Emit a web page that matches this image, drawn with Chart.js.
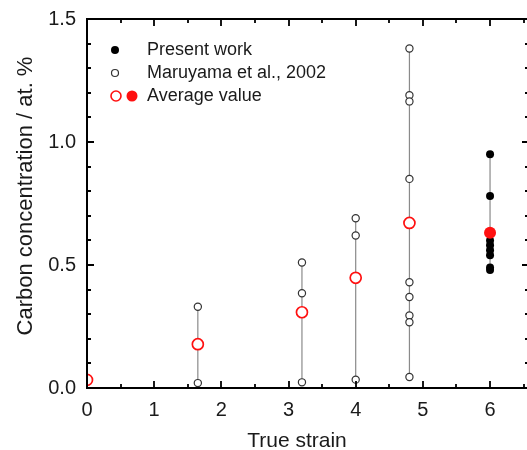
<!DOCTYPE html>
<html>
<head>
<meta charset="utf-8">
<script src="https://cdn.jsdelivr.net/npm/chart.js@4.4.1/dist/chart.umd.min.js"></script>
<style>
html,body{margin:0;padding:0;background:#fff;overflow:hidden;width:527px;height:450px;}
#wrap{width:527px;height:450px;overflow:hidden;position:relative;}
canvas{display:block;position:absolute;left:0;top:0;}
</style>
</head>
<body>
<div id="wrap"><canvas id="c" width="531" height="450" style="width:531px;height:450px"></canvas></div>
<script>
// ---- data ----
const maruyamaStrain = [1.65, 1.65, 3.2, 3.2, 3.2, 4.0, 4.0, 4.0, 4.8, 4.8, 4.8, 4.8, 4.8, 4.8, 4.8, 4.8, 4.8];
const maruyamaCarbon = [0.33, 0.02, 0.51, 0.385, 0.023, 0.69, 0.62, 0.034, 1.38, 1.19, 1.165, 0.85, 0.43, 0.37, 0.295, 0.267, 0.045];
const presentStrain = [6.0, 6.0, 6.0, 6.0, 6.0, 6.0, 6.0, 6.0];
const presentCarbon = [0.95, 0.78, 0.60, 0.58, 0.56, 0.54, 0.49, 0.48];
const avgOpenStrain = [0, 1.65, 3.2, 4.0, 4.8];
const avgOpenCarbon = [0.033, 0.178, 0.308, 0.448, 0.671];
const avgFilledStrain = [6.0];
const avgFilledCarbon = [0.631];
const xTickValues = [0, 1, 2, 3, 4, 5, 6];
const yTickValues = [0, 0.5, 1.0, 1.5];
const yTickLabels = ['0.0', '0.5', '1.0', '1.5'];
const legendLabels = ['Present work', 'Maruyama et al., 2002', 'Average value'];
const xTitle = 'True strain';
const yTitle = 'Carbon concentration / at. %';
const X_MAX = 6.58;

const toPts = (xs, ys) => xs.map((x, i) => ({x: x, y: ys[i]}));

// vertical range lines per strain group
const allX = [].concat(maruyamaStrain, presentStrain, avgOpenStrain, avgFilledStrain);
const allY = [].concat(maruyamaCarbon, presentCarbon, avgOpenCarbon, avgFilledCarbon);
const groups = [...new Set(allX)];
const lineSets = [];
groups.forEach(g => {
  const ys = allY.filter((y, i) => allX[i] === g);
  if (ys.length < 2) return;
  lineSets.push({
    type: 'line',
    data: [{x: g, y: Math.min(...ys)}, {x: g, y: Math.max(...ys)}],
    borderColor: '#8a8a8a', borderWidth: 1.2, pointRadius: 0, fill: false, order: 5
  });
});

const RED = '#ff1010';

const framePlugin = {
  id: 'frame',
  afterDatasetsDraw(chart) {
    const ctx = chart.ctx, a = chart.chartArea;
    const xs = chart.scales.x, ys = chart.scales.y;
    ctx.save();
    ctx.strokeStyle = '#000';
    ctx.lineWidth = 2;
    ctx.strokeRect(a.left, a.top, a.right - a.left, a.bottom - a.top);
    ctx.lineWidth = 1.8;
    ctx.beginPath();
    for (let v = 0; v <= X_MAX + 1e-9; v += 0.5) {
      const major = Math.abs(v - Math.round(v)) < 1e-6;
      const L = major ? 7 : 4;
      const px = Math.round(xs.getPixelForValue(v));
      ctx.moveTo(px, a.bottom); ctx.lineTo(px, a.bottom - L);
      ctx.moveTo(px, a.top); ctx.lineTo(px, a.top + L);
    }
    for (let k = 0; k <= 15; k++) {
      const v = k / 10;
      const major = k % 5 === 0;
      const L = major ? 7 : 4;
      const py = Math.round(ys.getPixelForValue(v));
      ctx.moveTo(a.left, py); ctx.lineTo(a.left + L, py);
      ctx.moveTo(a.right, py); ctx.lineTo(a.right - L, py);
    }
    ctx.stroke();

    // legend
    ctx.fillStyle = '#1a1a1a';
    ctx.font = '18px "Liberation Sans", Arial, sans-serif';
    ctx.textBaseline = 'middle';
    const lx = 147, ly = [50, 73, 96];
    legendLabels.forEach((t, i) => ctx.fillText(t, lx, ly[i]));
    // markers
    ctx.beginPath(); ctx.arc(115, ly[0], 4, 0, Math.PI * 2); ctx.fillStyle = '#000'; ctx.fill();
    ctx.beginPath(); ctx.arc(115, ly[1], 3.5, 0, Math.PI * 2); ctx.fillStyle = '#fff'; ctx.fill();
    ctx.lineWidth = 1.2; ctx.strokeStyle = '#333'; ctx.stroke();
    ctx.beginPath(); ctx.arc(116, ly[2], 5, 0, Math.PI * 2); ctx.lineWidth = 1.6; ctx.strokeStyle = RED; ctx.stroke();
    ctx.beginPath(); ctx.arc(132, ly[2], 5.5, 0, Math.PI * 2); ctx.fillStyle = RED; ctx.fill();

    // axis titles
    ctx.fillStyle = '#1a1a1a';
    ctx.textBaseline = 'alphabetic';
    ctx.textAlign = 'center';
    ctx.font = '21px "Liberation Sans", Arial, sans-serif';
    ctx.fillText(xTitle, 297, 447);
    ctx.translate(32, 196);
    ctx.rotate(-Math.PI / 2);
    ctx.font = '22px "Liberation Sans", Arial, sans-serif';
    ctx.fillText(yTitle, 0, 0);
    ctx.restore();
  }
};

new Chart(document.getElementById('c'), {
  type: 'scatter',
  data: {
    datasets: lineSets.concat([
      {
        data: toPts(maruyamaStrain, maruyamaCarbon),
        pointStyle: 'circle', pointRadius: 3.6, pointBorderWidth: 1.2,
        pointBorderColor: '#333', pointBackgroundColor: '#fff', order: 3
      },
      {
        data: toPts(presentStrain, presentCarbon),
        pointStyle: 'circle', pointRadius: 4, pointBorderWidth: 0,
        pointBorderColor: '#000', pointBackgroundColor: '#000', order: 3
      },
      {
        data: toPts(avgOpenStrain, avgOpenCarbon),
        pointStyle: 'circle', pointRadius: 5.5, pointBorderWidth: 1.7,
        pointBorderColor: RED, pointBackgroundColor: '#fff', order: 1, clip: 0
      },
      {
        data: toPts(avgFilledStrain, avgFilledCarbon),
        pointStyle: 'circle', pointRadius: 6, pointBorderWidth: 0,
        pointBorderColor: RED, pointBackgroundColor: RED, order: 1
      }
    ])
  },
  options: {
    responsive: false,
    maintainAspectRatio: false,
    animation: false,
    devicePixelRatio: 1,
    layout: {autoPadding: false, padding: {top: 19, right: 2, left: 0, bottom: 0}},
    plugins: {legend: {display: false}, tooltip: {enabled: false}},
    scales: {
      x: {
        type: 'linear', min: 0, max: X_MAX,
        grid: {display: false, drawTicks: false},
        border: {display: false},
        afterBuildTicks: s => { s.ticks = xTickValues.map(v => ({value: v})); },
        afterFit: s => { s.height = 62; s.paddingLeft = 0; s.paddingRight = 0; },
        ticks: {
          padding: 10, color: '#1a1a1a', maxRotation: 0, autoSkip: false,
          font: {family: '"Liberation Sans", Arial, sans-serif', size: 20},
          callback: v => String(v)
        }
      },
      y: {
        type: 'linear', min: 0, max: 1.5,
        grid: {display: false, drawTicks: false},
        border: {display: false},
        afterBuildTicks: s => { s.ticks = yTickValues.map(v => ({value: v})); },
        afterFit: s => { s.width = 87; s.paddingTop = 0; s.paddingBottom = 0; },
        ticks: {
          padding: 11, color: '#1a1a1a', autoSkip: false,
          font: {family: '"Liberation Sans", Arial, sans-serif', size: 20},
          callback: (v) => yTickLabels[yTickValues.indexOf(v)]
        }
      }
    }
  },
  plugins: [framePlugin]
});
</script>
</body>
</html>
